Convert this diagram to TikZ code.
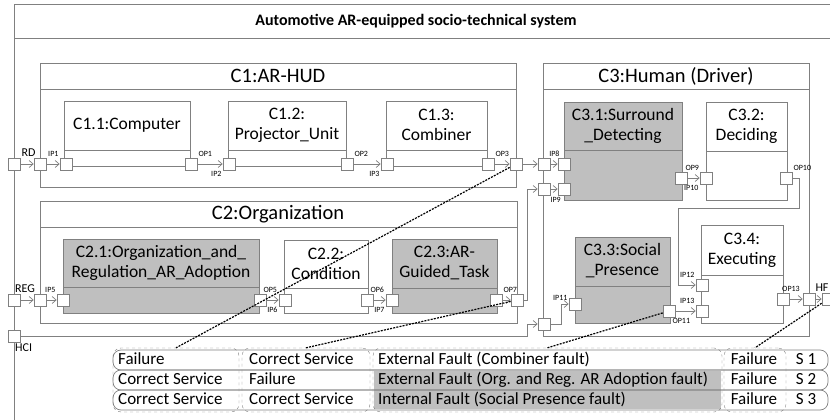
\documentclass[tikz,border=0pt]{standalone}
\usepackage{fontspec}
\setmainfont{Carlito}
\usepackage{tikz}
\usetikzlibrary{arrows.meta}

\definecolor{linegray}{RGB}{128,128,128}
\definecolor{compgray}{RGB}{191,191,191}

\tikzset{
	boxline/.style = {draw = linegray, line width = 0.7pt},
	grayfill/.style = {fill = compgray},
	port/.style = {draw = linegray, fill = white, line width = 0.7pt, minimum size = 12pt, inner sep = 0pt},
	flow/.style = {draw = linegray, line width = 0.7pt, -{Straight Barb[length = 4pt, width = 7pt]}},
	fault/.style = {draw = black, line width = 1.2pt, dash pattern = on 2pt off 1.2pt},
	plabel/.style = {font = \fontsize{8}{9}\selectfont, inner sep = 1pt},
	elabel/.style = {font = \fontsize{12}{14}\selectfont, inner sep = 1pt},
	ctitle/.style = {font = \fontsize{20.5}{24}\selectfont},
	ctext/.style = {font = \fontsize{17.5}{20}\selectfont, align = center},
	cell/.style = {font = \fontsize{17}{19}\selectfont, inner sep = 0pt, text height = 11.5pt, text depth = 3.5pt},
	group/.style = {draw = linegray, dashed, rounded corners = 8pt, inner sep = 0pt, minimum height = 64pt}
}

\begin{document}
\begin{tikzpicture}[x = 1pt, y = -1pt]
	\useasboundingbox (0, 0) rectangle (830, 420);
	\clip (0, 0) rectangle (830, 420);
	
	\draw[boxline] (14, 4) rectangle (834, 430);
	\draw[boxline] (14, 38) -- (834, 38);
	\node[font = \fontsize{16}{19}\selectfont\bfseries] (title) at (416, 21) {Automotive AR-equipped socio-technical system};
	
	\draw[boxline] (40, 63) rectangle (516, 187);
	\draw[boxline] (40, 89) -- (516, 89);
	\node[ctitle] (c1) at (278, 76) {C1:AR-HUD};
	
	\draw[boxline] (40, 201) rectangle (517, 323);
	\draw[boxline] (40, 227) -- (517, 227);
	\node[ctitle] (c2) at (278, 214) {C2:Organization};
	
	\draw[boxline] (543, 63) rectangle (809, 336);
	\draw[boxline] (543, 89) -- (809, 89);
	\node[ctitle] (c3) at (676, 76) {C3:Human (Driver)};
	
	\draw[boxline] (64, 101) rectangle (190, 166);
	\draw[boxline] (64, 150) -- (190, 150);
	\node[ctext] (c11) at (127, 125) {C1.1:Computer};
	
	\draw[boxline] (228, 101) rectangle (346, 166);
	\draw[boxline] (228, 150) -- (346, 150);
	\node[ctext] (c12) at (287, 125) {C1.2:\\Projector\_Unit};
	
	\draw[boxline] (386, 101) rectangle (487, 166);
	\draw[boxline] (386, 150) -- (487, 150);
	\node[ctext] (c13) at (436.5, 125) {C1.3:\\Combiner};
	
	\draw[boxline, grayfill] (63, 239) rectangle (259, 313);
	\draw[boxline] (63, 287) -- (259, 287);
	\node[ctext] (c21) at (161, 263) {C2.1:Organization\_and\_\\Regulation\_AR\_Adoption};
	
	\draw[boxline] (284, 240) rectangle (368, 313);
	\draw[boxline] (284, 288) -- (368, 288);
	\node[ctext] (c22) at (326, 264) {C2.2:\\Condition};
	
	\draw[boxline, grayfill] (392, 239) rectangle (497, 313);
	\draw[boxline] (392, 288) -- (497, 288);
	\node[ctext] (c23) at (444.5, 263) {C2.3:AR-\\Guided\_Task};
	
	\draw[boxline, grayfill] (564, 102) rectangle (682, 200);
	\draw[boxline] (564, 150) -- (682, 150);
	\node[ctext] (c31) at (623, 126) {C3.1:Surround\\\_Detecting};
	
	\draw[boxline] (706, 102) rectangle (787, 200);
	\draw[boxline] (706, 151) -- (787, 151);
	\node[ctext] (c32) at (746.5, 126) {C3.2:\\Deciding};
	
	\draw[boxline, grayfill] (575, 237) rectangle (670, 323);
	\draw[boxline] (575, 286) -- (670, 286);
	\node[ctext] (c33) at (622.5, 261) {C3.3:Social\\\_Presence};
	
	\draw[boxline] (701, 225) rectangle (783, 323);
	\draw[boxline] (701, 275) -- (783, 275);
	\node[ctext] (c34) at (742, 250) {C3.4:\\Executing};
	
	\node[port] (rd) at (14, 164) {};
	\node[port] (reg) at (14, 300) {};
	\node[port] (hci) at (14, 336) {};
	\node[port] (hf) at (828, 299) {};
	\node[port] (c1i) at (40, 164) {};
	\node[port] (c1o) at (516, 164) {};
	\node[port] (c2i) at (40, 300) {};
	\node[port] (c2o) at (517, 300) {};
	\node[port] (c3a) at (544, 164) {};
	\node[port] (c3b) at (544, 189) {};
	\node[port] (c3c) at (544, 324) {};
	\node[port] (c3o) at (809, 299) {};
	\node[port] (ip1) at (66, 164) {};
	\node[port] (op1) at (191, 164) {};
	\node[port] (ip2) at (229, 164) {};
	\node[port] (op2) at (347, 164) {};
	\node[port] (ip3) at (387, 164) {};
	\node[port] (op3) at (488, 164) {};
	\node[port] (ip5) at (63, 300) {};
	\node[port] (op5) at (260, 300) {};
	\node[port] (ip6) at (285, 300) {};
	\node[port] (op6) at (367, 300) {};
	\node[port] (ip7) at (392, 300) {};
	\node[port] (op7) at (496, 300) {};
	\node[port] (ip8) at (564, 164) {};
	\node[port] (ip9) at (564, 189) {};
	\node[port] (op9) at (681, 178) {};
	\node[port] (ip10) at (706, 178) {};
	\node[port] (op10) at (786, 178) {};
	\node[port] (ip11) at (575, 304) {};
	\node[port] (op11) at (669, 311) {};
	\node[port] (ip12) at (702, 285) {};
	\node[port] (ip13) at (702, 311) {};
	\node[port] (op13) at (783, 299) {};
	
	\node[elabel, anchor = south west] (rdl) at (rd.north east) {RD};
	\node[elabel, anchor = south west] (regl) at (reg.north) {REG};
	\node[elabel, anchor = north west] (hcil) at (hci.south) {HCI};
	\node[elabel, anchor = south] (hfl) at ([xshift = -6pt]hf.north) {HF};
	
	\node[plabel, anchor = south east] (ip1l) at (ip1.north west) {IP1};
	\node[plabel, anchor = south west] (op1l) at (op1.north east) {OP1};
	\node[plabel, anchor = north east] (ip2l) at (ip2.south west) {IP2};
	\node[plabel, anchor = south west] (op2l) at (op2.north east) {OP2};
	\node[plabel, anchor = north east] (ip3l) at (ip3.south west) {IP3};
	\node[plabel, anchor = south west] (op3l) at (op3.north east) {OP3};
	\node[plabel, anchor = south east] (ip5l) at (ip5.north west) {IP5};
	\node[plabel, anchor = south west] (op5l) at ([xshift = -4pt]op5.north east) {OP5};
	\node[plabel, anchor = north east] (ip6l) at (ip6.south west) {IP6};
	\node[plabel, anchor = south west] (op6l) at ([xshift = -4pt]op6.north east) {OP6};
	\node[plabel, anchor = north east] (ip7l) at (ip7.south west) {IP7};
	\node[plabel, anchor = south west] (op7l) at (op7.north east) {OP7};
	\node[plabel, anchor = south east] (ip8l) at ([xshift = 3pt]ip8.north west) {IP8};
	\node[plabel, anchor = north] (ip9l) at ([xshift = -2pt, yshift = -1pt]ip9.south west) {IP9};
	\node[plabel, anchor = south west] (op9l) at ([xshift = -3pt]op9.north east) {OP9};
	\node[plabel, anchor = north east] (ip10l) at (ip10.south west) {IP10};
	\node[plabel, anchor = south west] (op10l) at (op10.north east) {OP10};
	\node[plabel, anchor = east] (ip11l) at (ip11.north west) {IP11};
	\node[plabel, anchor = north west] (op11l) at ([xshift = -4pt]op11.south east) {OP11};
	\node[plabel, anchor = south east] (ip12l) at (ip12.north west) {IP12};
	\node[plabel, anchor = south east] (ip13l) at (ip13.north west) {IP13};
	\node[plabel, anchor = south west] (op13l) at ([xshift = -2pt]op13.north) {OP13};
	
	\foreach \a/\b in {rd/c1i, c1i/ip1, op1/ip2, op2/ip3, op3/c1o, c1o/c3a, c3a/ip8, reg/c2i, c2i/ip5, op5/ip6, op6/ip7, op7/c2o, c3b/ip9, op9/ip10, op11/ip13, op13/c3o, c3o/hf}
	\draw[flow] (\a) -- (\b);
	
	\coordinate (bend) at (527, 0);
	\coordinate (turn) at (678, 208);
	\draw[flow] (c2o) -- (bend |- c2o) |- (c3b);
	\draw[flow] (hci) -- (bend |- hci) |- (c3c);
	\draw[flow] (c3c) -- ++(17, 0) |- (ip11);
	\draw[flow] (op10) -- ++(13, 0) |- (turn) |- (ip12);
	
	\fill[compgray] (374, 371) rectangle (721, 409);
	\foreach \y in {350, 370, 390}
	\draw[boxline, rounded corners = 8pt] (113, \y) rectangle (828, \y + 20);
	
	\node[group, minimum width = 126pt] (g1) at (176, 380) {};
	\node[group, minimum width = 128pt] (g2) at (306, 380) {};
	\node[group, minimum width = 349pt] (g3) at (547.5, 380) {};
	\node[group, minimum width = 62pt] (g4) at (755, 380) {};
	
	\foreach \y/\a/\b/\c [count = \i] in {360/Failure/Correct Service/External Fault (Combiner fault), 380/Correct Service/Failure/External Fault (Org. and Reg. AR Adoption fault), 400/Correct Service/Correct Service/Internal Fault (Social Presence fault)} {
		\node[cell, anchor = west] (a\i) at (118, \y) {\a};
		\node[cell, anchor = west] (b\i) at (249, \y) {\b};
		\node[cell, anchor = west] (f\i) at (378, \y) {\c};
		\node[cell] (r\i) at (754, \y) {Failure};
		\node[cell] (s\i) at (806, \y) {S \i};
	}
	
	\draw[fault] (c1o) -- (g1.north);
	\draw[fault] (c2o) -- (g2.north);
	\draw[fault] (op11) -- (g3.north);
	\draw[fault] (hf) -- (g4.north);
\end{tikzpicture}
\end{document}
